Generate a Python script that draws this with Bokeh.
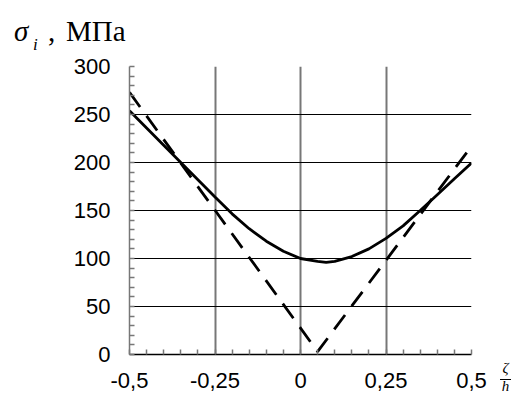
from bokeh.plotting import figure
from bokeh.models import Range1d, FixedTicker, Div
from bokeh.layouts import column, row
from bokeh.embed import file_html
from bokeh.resources import INLINE

# ---- data ----
x_ticks = [-0.5, -0.25, 0, 0.25, 0.5]
x_tick_labels = ["-0,5", "-0,25", "0", "0,25", "0,5"]
y_ticks = [0, 50, 100, 150, 200, 250, 300]
y_tick_labels = ["0", "50", "100", "150", "200", "250", "300"]

solid_x = [-0.5, -0.45, -0.4, -0.35, -0.3, -0.25, -0.2, -0.15, -0.1, -0.05,
           0.0, 0.05, 0.075, 0.1, 0.15, 0.2, 0.25, 0.3, 0.35, 0.4, 0.45, 0.5]
solid_y = [254, 236, 218, 200, 182, 164, 146.5, 131, 118, 107.5,
           100, 97, 96, 97, 102, 110, 121, 134, 150, 166.5, 183, 199.5]

dashed_x = [-0.5, 0.05, 0.5]
dashed_y = [273, 3, 217]

x_minor = [round(-0.5 + 0.05 * i, 2) for i in range(21)]
y_minor = list(range(0, 301, 10))

TITLE_H = 52

p = figure(width=497, height=397 - TITLE_H, output_backend="svg",
           toolbar_location=None,
           x_range=Range1d(-0.5, 0.5), y_range=Range1d(0, 300),
           min_border_left=129, min_border_right=26, min_border_top=66 - TITLE_H,
           min_border_bottom=43)
p.outline_line_color = None
p.background_fill_color = "white"
p.border_fill_color = "white"

p.xaxis.ticker = FixedTicker(ticks=x_ticks, minor_ticks=x_minor)
p.yaxis.ticker = FixedTicker(ticks=y_ticks, minor_ticks=y_minor)
p.xaxis.major_label_overrides = {t: l for t, l in zip(x_ticks, x_tick_labels)}
p.yaxis.major_label_overrides = {t: l for t, l in zip(y_ticks, y_tick_labels)}

for ax in (p.xaxis, p.yaxis):
    ax.major_tick_out = 0
    ax.major_tick_in = 0
    ax.minor_tick_out = 0
    ax.minor_tick_in = 5
    ax.minor_tick_line_color = "#777777"
    ax.minor_tick_line_width = 1.5
    ax.major_label_text_font = "Liberation Sans"
    ax.major_label_text_font_size = "22px"
    ax.major_label_text_color = "black"

p.xaxis.axis_line_color = "black"
p.xaxis.axis_line_width = 1.3
p.xaxis.major_label_standoff = 18
p.yaxis.axis_line_color = "#777777"
p.yaxis.axis_line_width = 1.5
p.yaxis.major_label_standoff = 19

p.xgrid.ticker = FixedTicker(ticks=x_ticks)
p.ygrid.ticker = FixedTicker(ticks=y_ticks)
p.xgrid.grid_line_color = "#777777"
p.xgrid.grid_line_width = 2
p.ygrid.grid_line_color = "black"
p.ygrid.grid_line_width = 1.2

p.line(solid_x, solid_y, line_color="black", line_width=2.8)
p.line(dashed_x, dashed_y, line_color="black", line_width=2.8,
       line_dash="18 11")

SERIF = "font-family:'Liberation Serif','Times New Roman',serif;color:black;"

title_html = (
    f'<div style="position:relative;width:516px;height:{TITLE_H}px;{SERIF}">'
    '<span style="position:absolute;left:14px;top:17px;font-size:29px;'
    'line-height:29px;font-style:italic;">σ</span>'
    '<span style="position:absolute;left:33px;top:36px;font-size:17px;'
    'line-height:17px;font-style:italic;">i</span>'
    '<span style="position:absolute;left:48px;top:17px;font-size:29px;'
    'line-height:29px;">,</span>'
    '<span style="position:absolute;left:66px;top:17px;font-size:29px;'
    'line-height:29px;">МПа</span>'
    '</div>'
)
title_div = Div(text=title_html, width=516, height=TITLE_H, margin=0)

FH = 397 - TITLE_H
frac_html = (
    f'<div style="position:relative;width:19px;height:{FH}px;{SERIF}">'
    '<div style="position:absolute;left:3px;top:309px;width:11px;'
    'text-align:center;font-size:15px;line-height:15px;font-style:italic;">ζ</div>'
    '<div style="position:absolute;left:3px;top:327px;width:11px;height:1px;'
    'background:black;"></div>'
    '<div style="position:absolute;left:3px;top:327px;width:11px;'
    'text-align:center;font-size:15px;line-height:15px;font-style:italic;">h</div>'
    '</div>'
)
frac_div = Div(text=frac_html, width=19, height=FH, margin=0)

layout = column(title_div, row(p, frac_div, spacing=0), spacing=0)

open("out.html", "w").write(file_html(layout, INLINE))
